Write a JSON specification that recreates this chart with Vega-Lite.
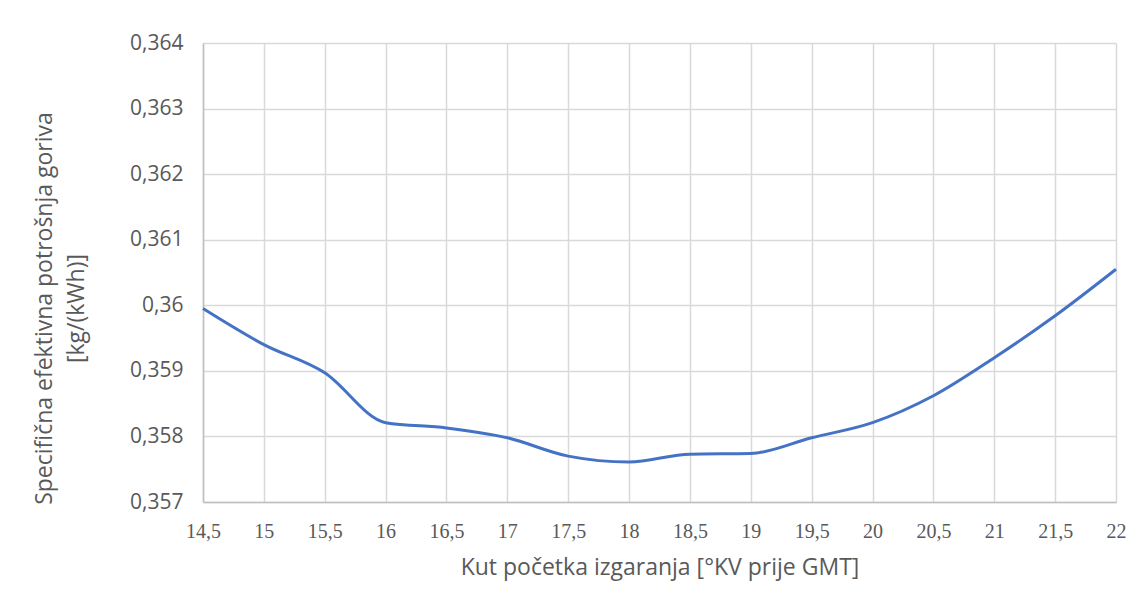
{
  "$schema": "https://vega.github.io/schema/vega-lite/v6.json",
  "autosize": "none",
  "width": 913,
  "height": 459,
  "padding": {"left": 203, "top": 43, "right": 28, "bottom": 108},
  "background": "white",
  "config": {
    "view": {"stroke": null},
    "font": "Open Sans"
  },
  "data": {
    "values": [
      {"kut": 14.5, "ge": 0.35995},
      {"kut": 15.0, "ge": 0.35940},
      {"kut": 15.5, "ge": 0.35897},
      {"kut": 16.0, "ge": 0.35821},
      {"kut": 16.5, "ge": 0.35813},
      {"kut": 17.0, "ge": 0.35798},
      {"kut": 17.5, "ge": 0.35770},
      {"kut": 18.0, "ge": 0.35761},
      {"kut": 18.5, "ge": 0.35773},
      {"kut": 19.0, "ge": 0.35774},
      {"kut": 19.5, "ge": 0.35798},
      {"kut": 20.0, "ge": 0.35821},
      {"kut": 20.5, "ge": 0.35862},
      {"kut": 21.0, "ge": 0.35920},
      {"kut": 21.5, "ge": 0.35984},
      {"kut": 22.0, "ge": 0.36055}
    ]
  },
  "mark": {"type": "line", "interpolate": "monotone", "color": "#4472C4", "strokeWidth": 3},
  "encoding": {
    "x": {
      "field": "kut",
      "type": "quantitative",
      "scale": {"domain": [14.5, 22], "nice": false, "zero": false},
      "axis": {
        "values": [14.5, 15, 15.5, 16, 16.5, 17, 17.5, 18, 18.5, 19, 19.5, 20, 20.5, 21, 21.5, 22],
        "labelExpr": "replace(format(datum.value, '.1~f'), '.', ',')",
        "title": "Kut početka izgaranja [°KV prije GMT]",
        "titleFont": "Open Sans",
        "titleFontSize": 23,
        "titleFontWeight": "normal",
        "titleColor": "#595959",
        "titlePadding": 15,
        "labelFont": "Liberation Serif",
        "labelFontSize": 20,
        "labelColor": "#595959",
        "labelPadding": 19,
        "labelFlush": false,
        "ticks": false,
        "grid": true,
        "gridColor": "#d9d9d9",
        "gridWidth": 1.5,
        "domainColor": "#bfbfbf",
        "domainWidth": 1.5
      }
    },
    "y": {
      "field": "ge",
      "type": "quantitative",
      "scale": {"domain": [0.357, 0.364], "nice": false, "zero": false},
      "axis": {
        "values": [0.357, 0.358, 0.359, 0.36, 0.361, 0.362, 0.363, 0.364],
        "labelExpr": "replace(format(datum.value, '.3~f'), '.', ',')",
        "title": ["Specifična efektivna potrošnja goriva", "[kg/(kWh)]"],
        "titleFont": "Open Sans",
        "titleFontSize": 23,
        "titleFontWeight": "normal",
        "titleColor": "#595959",
        "titlePadding": 41,
        "titleLineHeight": 32,
        "titleY": 265,
        "labelFont": "Open Sans",
        "labelFontSize": 21,
        "labelColor": "#595959",
        "labelPadding": 20,
        "ticks": false,
        "grid": true,
        "gridColor": "#d9d9d9",
        "gridWidth": 1.5,
        "domainColor": "#bfbfbf",
        "domainWidth": 1.5
      }
    }
  }
}
